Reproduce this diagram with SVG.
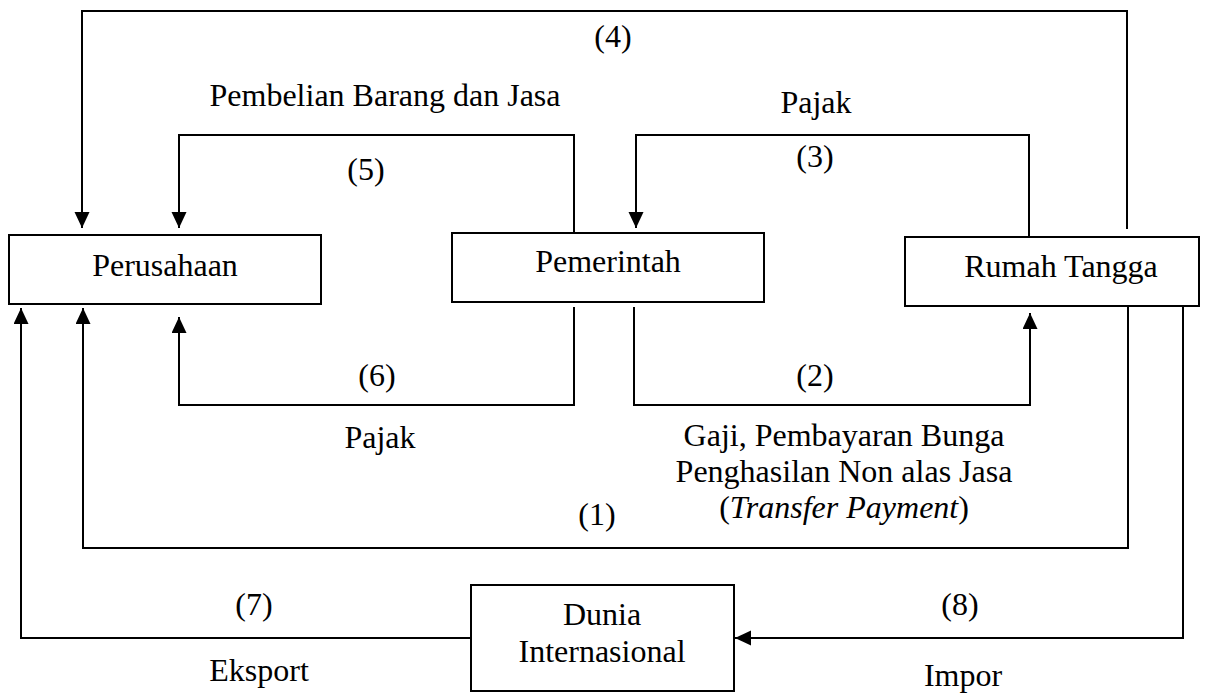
<svg xmlns="http://www.w3.org/2000/svg" width="1207" height="693" viewBox="0 0 1207 693">
<style>
.box{fill:#fff;stroke:#000;stroke-width:2}
.ln{fill:none;stroke:#000;stroke-width:2}
text{font-family:"Liberation Serif","Times New Roman",serif;font-size:32px;fill:#000;text-anchor:middle}
</style>
<defs>
<marker id="ah" markerUnits="userSpaceOnUse" markerWidth="17" markerHeight="16" refX="16" refY="7.5" orient="auto">
<path d="M0,0 L16,7.5 L0,15 z" fill="#000"/>
</marker>
</defs>
<rect width="1207" height="693" fill="#fff"/>
<g id="connectors">
<path class="ln" d="M1127,229 V11 H82 V228" marker-end="url(#ah)"/>
<path class="ln" d="M574,233 V135 H179 V228" marker-end="url(#ah)"/>
<path class="ln" d="M1029,237 V135 H636 V228" marker-end="url(#ah)"/>
<path class="ln" d="M574,307 V405 H179 V317" marker-end="url(#ah)"/>
<path class="ln" d="M634,307 V405 H1030 V313" marker-end="url(#ah)"/>
<path class="ln" d="M1128,306 V548 H83 V308" marker-end="url(#ah)"/>
<path class="ln" d="M471,638 H21 V308" marker-end="url(#ah)"/>
<path class="ln" d="M1183,306 V638 H735" marker-end="url(#ah)"/>
</g>
<g id="labels">
<text x="613" y="47">(4)</text>
<text x="385" y="106">Pembelian Barang dan Jasa</text>
<text x="366" y="180">(5)</text>
<text x="816" y="113">Pajak</text>
<text x="815" y="167">(3)</text>
<text x="377" y="386">(6)</text>
<text x="380" y="448">Pajak</text>
<text x="815" y="386">(2)</text>
<text x="844" y="446">Gaji, Pembayaran Bunga</text>
<text x="844" y="482">Penghasilan Non alas Jasa</text>
<text x="844" y="518">(<tspan font-style="italic">Transfer Payment</tspan>)</text>
<text x="597" y="525">(1)</text>
<text x="254" y="615">(7)</text>
<text x="259" y="681">Eksport</text>
<text x="960" y="615">(8)</text>
<text x="963" y="686">Impor</text>
</g>
<g id="perusahaan">
<rect class="box" x="9" y="235" width="312" height="69"/>
<text x="165" y="276">Perusahaan</text>
</g>
<g id="pemerintah">
<rect class="box" x="452" y="233" width="312" height="69"/>
<text x="608" y="272">Pemerintah</text>
</g>
<g id="rumah-tangga">
<rect class="box" x="905" y="237" width="294" height="69"/>
<text x="1061" y="277">Rumah Tangga</text>
</g>
<g id="dunia-internasional">
<rect class="box" x="471" y="585" width="263" height="106"/>
<text x="602" y="625">Dunia</text>
<text x="602" y="662">Internasional</text>
</g>
</svg>
